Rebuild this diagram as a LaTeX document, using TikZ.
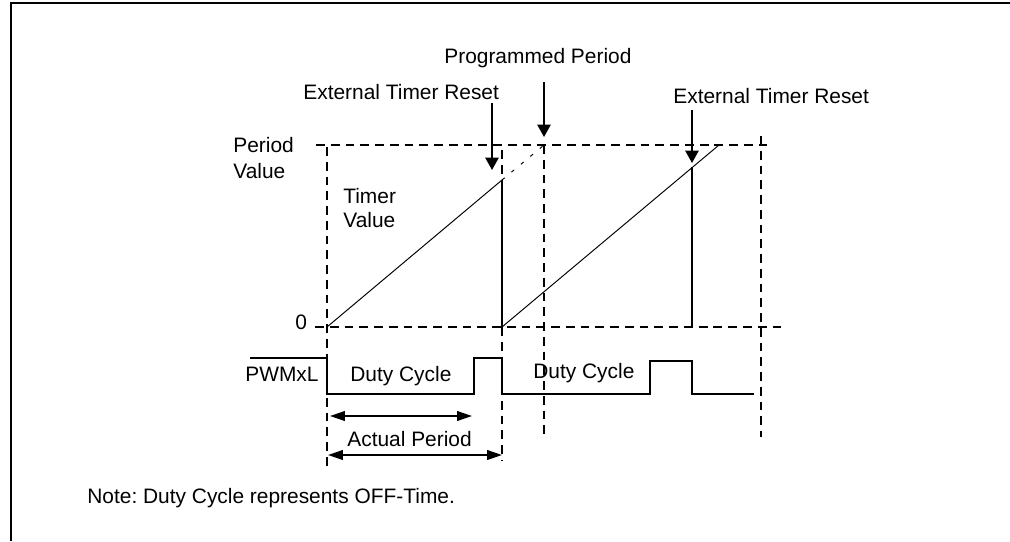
\documentclass[tikz,border=0pt]{standalone}
\usepackage{fontspec}
\setmainfont{Liberation Sans}
\usetikzlibrary{arrows.meta}
\definecolor{ink}{RGB}{0,0,0}
\tikzset{
  >={Triangle[length=7pt,width=7.5pt]},
  lbl/.style={font=\fontsize{11.9}{14}\selectfont,inner sep=0pt,anchor=base west},
  guide/.style={draw=ink,line width=1.1pt,dash pattern=on 5pt off 3.4pt},
  ramp/.style={draw=ink,line width=0.55pt},
  wave/.style={draw=ink,line width=1.1pt},
  pointer/.style={->,draw=ink,line width=1.1pt},
  span/.style={{Triangle[length=8.5pt,width=5.5pt]}-{Triangle[length=8.5pt,width=5.5pt]},draw=ink,line width=1.1pt},
}
\frenchspacing
\begin{document}
\begin{tikzpicture}[x=0.02cm,y=-0.02cm]
  \useasboundingbox (0,0) rectangle (1010,541);
  \draw[line width=1.1pt] (11,541) -- (11,3) -- (1010,3);
  % labels
  \node[lbl] (prog) at (444,63) {Programmed Period};
  \node[lbl] (rst1) at (303,99) {External Timer Reset};
  \node[lbl] (rst2) at (673,103) {External Timer Reset};
  \node[lbl] (per) at (233,152) {Period};
  \node[lbl] (perv) at (233,178) {Value};
  \node[lbl] (tim) at (343,203) {Timer};
  \node[lbl] (timv) at (343,227) {Value};
  \node[lbl] (zero) at (295,329) {0};
  \node[lbl] (pwm) at (245,381) {PWMxL};
  \node[lbl] (dc1) at (350,381) {Duty Cycle};
  \node[lbl] (dc2) at (533,378) {Duty Cycle};
  \node[lbl] (act) at (347,446) {Actual Period};
  \node[lbl] (note) at (87,503) {Note: Duty Cycle represents OFF-Time.};
  % key points
  \coordinate (z0) at (327,327);
  \coordinate (z1) at (502,327);
  \coordinate (z2) at (692,327);
  \coordinate (r1) at (502,180);
  \coordinate (r2) at (692,167);
  \coordinate (pv) at (544,145);
  \coordinate (top2) at (719,145);
  % guides
  \draw[guide] (316,145) -- (767,145);
  \draw[guide] (315,327) -- (782,327);
  \foreach \x/\a/\b in {327/147/467,502/150/460,544/145/440,761/136/437}
    \draw[guide] (\x,\a) -- (\x,\b);
  % timer ramps
  \draw[ramp] (z0) -- (r1) -- (z1) -- (top2);
  \draw[ramp,dash pattern=on 2pt off 5pt] (r1) -- (pv);
  \draw[wave] (r1) -- (z1);
  \draw[wave] (r2) -- (z2);
  % resets
  \coordinate (t1) at (492,103); \coordinate (h1) at (492,170);
  \coordinate (t2) at (544,82);  \coordinate (h2) at (544,137);
  \coordinate (t3) at (692,110); \coordinate (h3) at (692,163);
  \draw[pointer] (t1) -- (h1);
  \draw[pointer] (t2) -- (h2);
  \draw[pointer] (t3) -- (h3);
  % PWM output
  \draw[wave] (250,358) -- (327,358) -- (327,394) -- (474,394) -- (474,358) -- (502,358)
    -- (502,394) -- (650,394) -- (650,361) -- (692,361) -- (692,394) -- (754,394);
  % periods
  \coordinate (a1) at (330,416); \coordinate (b1) at (472,416);
  \coordinate (a2) at (328,455); \coordinate (b2) at (502,455);
  \draw[span] (a1) -- (b1);
  \draw[span] (a2) -- (b2);
\end{tikzpicture}
\end{document}
